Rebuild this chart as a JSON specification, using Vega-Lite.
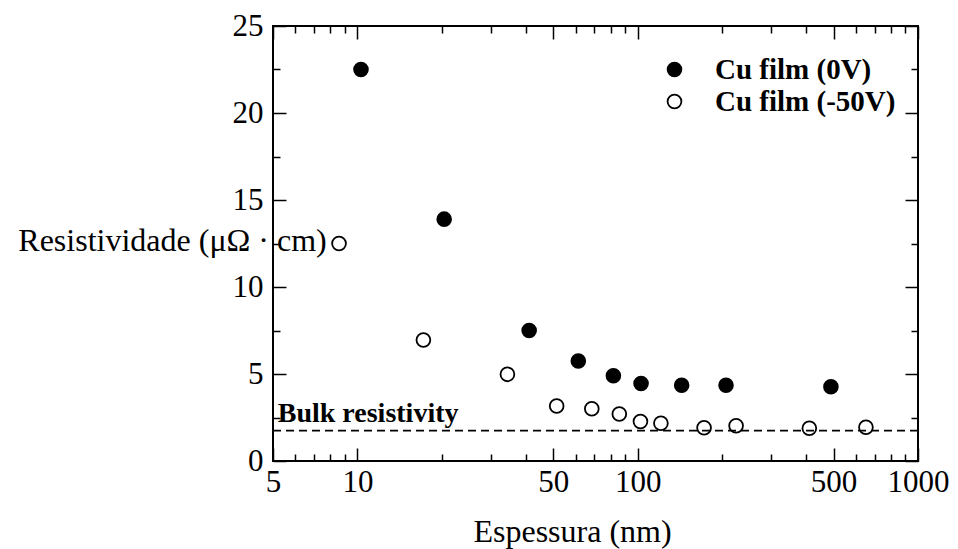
{
  "$schema": "https://vega.github.io/schema/vega-lite/v6.json",
  "width": 645,
  "height": 435,
  "autosize": {"type": "none"},
  "padding": {"left": 273, "top": 26, "right": 40, "bottom": 88},
  "background": "white",
  "config": {
    "view": {"stroke": "black", "strokeWidth": 2},
    "font": "Liberation Serif",
    "axis": {
      "domain": false,
      "grid": false,
      "tickColor": "black",
      "tickWidth": 1.5,
      "labelColor": "black",
      "labelFont": "Liberation Serif",
      "labelFontSize": 31,
      "titleFont": "Liberation Serif",
      "titleFontSize": 32,
      "titleFontWeight": "normal",
      "titleColor": "black"
    }
  },
  "datasets": {
    "points": [
      {"t": 10.3, "r": 22.5, "s": "Cu film (0V)"},
      {"t": 20.4, "r": 13.9, "s": "Cu film (0V)"},
      {"t": 41.0, "r": 7.5, "s": "Cu film (0V)"},
      {"t": 61.4, "r": 5.75, "s": "Cu film (0V)"},
      {"t": 81.9, "r": 4.9, "s": "Cu film (0V)"},
      {"t": 102.8, "r": 4.45, "s": "Cu film (0V)"},
      {"t": 143.5, "r": 4.35, "s": "Cu film (0V)"},
      {"t": 206.6, "r": 4.35, "s": "Cu film (0V)"},
      {"t": 489, "r": 4.27, "s": "Cu film (0V)"},
      {"t": 8.6, "r": 12.5, "s": "Cu film (-50V)"},
      {"t": 17.2, "r": 6.95, "s": "Cu film (-50V)"},
      {"t": 34.3, "r": 4.98, "s": "Cu film (-50V)"},
      {"t": 51.4, "r": 3.16, "s": "Cu film (-50V)"},
      {"t": 68.6, "r": 3.0, "s": "Cu film (-50V)"},
      {"t": 86, "r": 2.7, "s": "Cu film (-50V)"},
      {"t": 102.3, "r": 2.27, "s": "Cu film (-50V)"},
      {"t": 121, "r": 2.17, "s": "Cu film (-50V)"},
      {"t": 172.5, "r": 1.91, "s": "Cu film (-50V)"},
      {"t": 224.4, "r": 2.03, "s": "Cu film (-50V)"},
      {"t": 409.6, "r": 1.88, "s": "Cu film (-50V)"},
      {"t": 652, "r": 1.94, "s": "Cu film (-50V)"}
    ],
    "bulk": [{"r": 1.75}],
    "label": [{"t": 5.2, "r": 2.25, "text": "Bulk resistivity"}]
  },
  "layer": [
    {
      "data": {"name": "points"},
      "mark": {"type": "point", "shape": "circle", "size": 190, "stroke": "black", "strokeWidth": 1.8, "opacity": 1},
      "encoding": {
        "x": {
          "field": "t", "type": "quantitative",
          "scale": {"type": "log", "domain": [5, 1000], "nice": false},
          "axis": {
            "orient": "bottom",
            "values": [5, 6, 7, 8, 9, 10, 20, 30, 40, 50, 60, 70, 80, 90, 100, 200, 300, 400, 500, 600, 700, 800, 900, 1000],
            "tickSize": {"condition": {"test": "indexof([5,10,50,100,500,1000], datum.value) >= 0", "value": -13}, "value": -7},
            "labelExpr": "indexof([5,10,50,100,500,1000], datum.value) >= 0 ? format(datum.value, 'd') : ''",
            "labelPadding": 19,
            "labelFlush": false,
            "labelOverlap": false,
            "title": "Espessura (nm)",
            "titleX": 299,
            "titleY": 80,
            "titleAlign": "center",
            "titleBaseline": "alphabetic"
          }
        },
        "y": {
          "field": "r", "type": "quantitative",
          "scale": {"domain": [0, 25], "nice": false, "zero": false},
          "axis": {
            "orient": "left",
            "values": [0, 2.5, 5, 7.5, 10, 12.5, 15, 17.5, 20, 22.5, 25],
            "tickSize": {"condition": {"test": "datum.value % 5 == 0", "value": -13}, "value": -7},
            "labelExpr": "datum.value % 5 == 0 ? format(datum.value, 'd') : ''",
            "labelPadding": 23,
            "labelFlush": false,
            "labelOverlap": false,
            "title": "Resistividade (μΩ · cm)",
            "titleAngle": 0,
            "titleX": -101,
            "titleY": 224,
            "titleAlign": "center",
            "titleBaseline": "alphabetic"
          }
        },
        "fill": {
          "field": "s", "type": "nominal",
          "scale": {"domain": ["Cu film (0V)", "Cu film (-50V)"], "range": ["black", "white"]},
          "legend": {
            "orient": "none",
            "legendX": 387,
            "legendY": 29,
            "title": null,
            "labelFont": "Liberation Serif",
            "labelFontSize": 29,
            "labelFontWeight": "bold",
            "labelColor": "black",
            "labelLimit": 0,
            "symbolType": "circle",
            "symbolSize": 190,
            "symbolStrokeWidth": 1.8,
            "symbolStrokeColor": "black",
            "labelOffset": 26,
            "rowPadding": 2,
            "padding": 0
          }
        }
      }
    },
    {
      "data": {"name": "bulk"},
      "mark": {"type": "rule", "color": "black", "strokeDash": [8, 5], "strokeWidth": 1.8},
      "encoding": {
        "y": {"field": "r", "type": "quantitative", "scale": {"domain": [0, 25], "nice": false, "zero": false}, "axis": null}
      }
    },
    {
      "data": {"name": "label"},
      "mark": {"type": "text", "align": "left", "baseline": "alphabetic", "font": "Liberation Serif", "fontSize": 28, "fontWeight": "bold", "color": "black"},
      "encoding": {
        "x": {
          "field": "t", "type": "quantitative",
          "scale": {"type": "log", "domain": [5, 1000], "nice": false},
          "axis": {
            "orient": "top",
            "values": [5, 6, 7, 8, 9, 10, 20, 30, 40, 50, 60, 70, 80, 90, 100, 200, 300, 400, 500, 600, 700, 800, 900, 1000],
            "tickSize": {"condition": {"test": "indexof([5,10,50,100,500,1000], datum.value) >= 0", "value": -13}, "value": -7},
            "labels": false,
            "title": null
          }
        },
        "y": {
          "field": "r", "type": "quantitative",
          "scale": {"domain": [0, 25], "nice": false, "zero": false},
          "axis": {
            "orient": "right",
            "values": [0, 2.5, 5, 7.5, 10, 12.5, 15, 17.5, 20, 22.5, 25],
            "tickSize": {"condition": {"test": "datum.value % 5 == 0", "value": -13}, "value": -7},
            "labels": false,
            "title": null
          }
        },
        "text": {"field": "text"}
      }
    }
  ],
  "resolve": {"axis": {"x": "independent", "y": "independent"}}
}
